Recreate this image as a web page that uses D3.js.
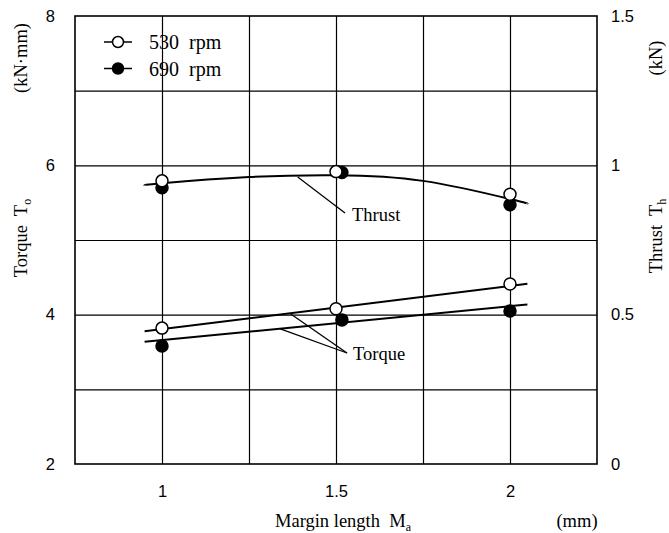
<!DOCTYPE html>
<html>
<head>
<meta charset="utf-8">
<script src="https://cdn.jsdelivr.net/npm/d3@7"></script>
<style>
  body { margin: 0; background: #fff; }
  svg { display: block; }
</style>
</head>
<body>
<svg id="chart" width="669" height="533"></svg>
<script>
// ---- data ----
const marginLength = [1, 1.5, 2];
const marginLength690 = [1, 1.517, 2];   // filled markers at 1.5 sit slightly right
const torque530 = [3.82, 4.08, 4.41];
const torque690 = [3.58, 3.93, 4.05];
const thrust530 = [0.948, 0.979, 0.903];
const thrust690 = [0.925, 0.976, 0.868];

// fitted curves
const fitX = [0.95, 2.05];
const torqueFit530 = [3.777, 4.413];
const torqueFit690 = [3.636, 4.137];
const thrustFitX = [0.95, 1.0, 1.25, 1.5, 1.75, 2.0, 2.05];
const thrustFit = [0.933, 0.940, 0.961, 0.967, 0.948, 0.887, 0.872];

const xTicks = [1, 1.5, 2];
const xGrid = [1, 1.25, 1.5, 1.75, 2];
const torqueTicks = [2, 4, 6, 8];
const torqueGrid = [3, 4, 5, 6, 7];
const thrustTicks = [0, 0.5, 1, 1.5];
const legendLabels = ["530  rpm", "690  rpm"];

// ---- layout ----
const L = 75, R = 597, T = 16, B = 464;
const svg = d3.select("#chart");
const x = d3.scaleLinear().domain([0.75, 2.25]).range([L, R]);
const yT = d3.scaleLinear().domain([2, 8]).range([B, T]);
const yH = d3.scaleLinear().domain([0, 1.5]).range([B, T]);

const sans = "'Liberation Sans', Arial, sans-serif";
const serif = "'Liberation Serif', 'Times New Roman', serif";

// grid
const gx = svg.append("g").attr("transform", `translate(0,${B})`)
  .call(d3.axisBottom(x).tickValues(xGrid).tickSize(-(B - T)).tickFormat(""));
const gy = svg.append("g").attr("transform", `translate(${L},0)`)
  .call(d3.axisLeft(yT).tickValues(torqueGrid).tickSize(-(R - L)).tickFormat(""));
[gx, gy].forEach(g => {
  g.select(".domain").remove();
  g.selectAll("line").attr("stroke", "#000").attr("stroke-width", 1.2);
});

// frame
svg.append("rect").attr("x", L).attr("y", T).attr("width", R - L).attr("height", B - T)
  .attr("fill", "none").attr("stroke", "#000").attr("stroke-width", 1.6);

// axes labels
const ax = svg.append("g").attr("transform", `translate(${L},0)`)
  .call(d3.axisLeft(yT).tickValues(torqueTicks).tickSize(0).tickPadding(20).tickFormat(d3.format("d")));
const ar = svg.append("g").attr("transform", `translate(${R},0)`)
  .call(d3.axisRight(yH).tickValues(thrustTicks).tickSize(0).tickPadding(14).tickFormat(d => d));
const ab = svg.append("g").attr("transform", `translate(0,${B})`)
  .call(d3.axisBottom(x).tickValues(xTicks).tickSize(0).tickPadding(21).tickFormat(d => d));
[ax, ar, ab].forEach(g => {
  g.select(".domain").remove();
  g.selectAll("text").attr("font-family", sans).attr("font-size", 16.5).attr("fill", "#000");
});

// lines
const lineT = (xs, ys) => d3.line().x((d, i) => x(xs[i])).y(d => yT(d))(ys);
svg.append("path").attr("d", lineT(fitX, torqueFit530))
  .attr("fill", "none").attr("stroke", "#000").attr("stroke-width", 2);
svg.append("path").attr("d", lineT(fitX, torqueFit690))
  .attr("fill", "none").attr("stroke", "#000").attr("stroke-width", 2);
svg.append("path")
  .attr("d", d3.line().curve(d3.curveNatural).x((d, i) => x(thrustFitX[i])).y(d => yH(d))(thrustFit))
  .attr("fill", "none").attr("stroke", "#000").attr("stroke-width", 2);

// markers: filled first, open on top
const r = 6;
function markers(xs, ys, scale, filled) {
  svg.append("g").selectAll("circle").data(ys).join("circle")
    .attr("cx", (d, i) => x(xs[i])).attr("cy", d => scale(d)).attr("r", r)
    .attr("fill", filled ? "#000" : "#fff").attr("stroke", "#000").attr("stroke-width", 1.5);
}
markers(marginLength690, torque690, yT, true);
markers(marginLength690, thrust690, yH, true);
markers(marginLength, torque530, yT, false);
markers(marginLength, thrust530, yH, false);

// annotations
const ann = svg.append("g").attr("stroke", "#000").attr("stroke-width", 1.3);
ann.append("line").attr("x1", x(1.39)).attr("y1", yH(0.961)).attr("x2", 345).attr("y2", 213);
ann.append("line").attr("x1", x(1.37)).attr("y1", yT(4.01)).attr("x2", 347).attr("y2", 353);
ann.append("line").attr("x1", x(1.34)).attr("y1", yT(3.81)).attr("x2", 347).attr("y2", 353);
svg.append("text").attr("x", 352).attr("y", 221).text("Thrust")
  .attr("font-family", serif).attr("font-size", 18.5);
svg.append("text").attr("x", 353).attr("y", 360).text("Torque")
  .attr("font-family", serif).attr("font-size", 18.5);

// legend
const lg = svg.append("g");
legendLabels.forEach((lab, i) => {
  const cy = 42 + i * 26.5;
  lg.append("line").attr("x1", 104).attr("x2", 132).attr("y1", cy).attr("y2", cy)
    .attr("stroke", "#000").attr("stroke-width", 1.5);
  lg.append("circle").attr("cx", 118).attr("cy", cy).attr("r", 5.5)
    .attr("fill", i === 0 ? "#fff" : "#000").attr("stroke", "#000").attr("stroke-width", 1.5);
  lg.append("text").attr("x", 149).attr("y", cy + 7).text(lab)
    .attr("font-family", serif).attr("font-size", 20)
    .style("white-space", "pre");
});

// axis titles
function rotTitle(xp, yp, main, sub) {
  const t = svg.append("text").attr("transform", `translate(${xp},${yp}) rotate(-90)`)
    .attr("text-anchor", "middle").attr("font-family", serif).attr("font-size", 18.5)
    .style("white-space", "pre");
  t.append("tspan").text(main);
  if (sub) t.append("tspan").attr("dy", 4).attr("font-size", 12).text(sub);
  return t;
}
rotTitle(27, 238, "Torque  T", "o");
rotTitle(27, 58, "(kN·mm)");
rotTitle(662, 236, "Thrust  T", "h");
rotTitle(662, 58, "(kN)");

const xt = svg.append("text").attr("x", 343).attr("y", 527).attr("text-anchor", "middle")
  .attr("font-family", serif).attr("font-size", 18.5).style("white-space", "pre");
xt.append("tspan").text("Margin length  M");
xt.append("tspan").attr("dy", 4).attr("font-size", 12).text("a");
svg.append("text").attr("x", 577).attr("y", 527).attr("text-anchor", "middle")
  .attr("font-family", serif).attr("font-size", 18.5).text("(mm)");
</script>
</body>
</html>
